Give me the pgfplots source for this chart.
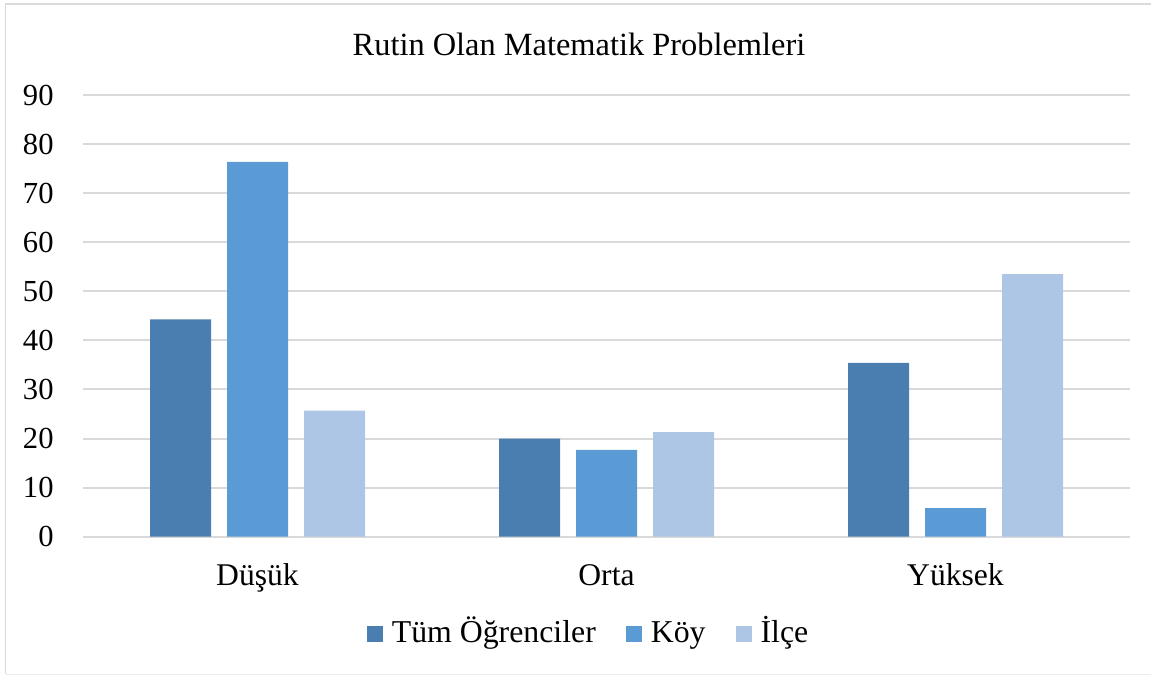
\documentclass[border=0pt]{standalone}
\usepackage{fontspec}
\setmainfont{Liberation Serif}
\usepackage{pgfplots}
\pgfplotsset{compat=1.18}
\definecolor{cTum}{RGB}{74,126,176}
\definecolor{cKoy}{RGB}{91,155,213}
\definecolor{cIlce}{RGB}{173,198,229}
\definecolor{cGrid}{RGB}{217,217,217}
\begin{document}
\fontsize{15}{18}\selectfont
\begin{tikzpicture}
\useasboundingbox (0,0) rectangle (575.5pt,337.5pt);
\draw[cGrid, line width=0.8pt] (2.8pt,0.3pt) -- (2.8pt,335.5pt) -- (575.5pt,335.5pt);
\draw[cGrid!50, line width=0.4pt] (2.8pt,0.3pt) -- (575.5pt,0.3pt);
\node[anchor=base, font=\fontsize{16.2}{19}\selectfont] at (289.5pt,309.5pt) {Rutin Olan Matematik Problemleri};
\begin{axis}[
  at={(41.5pt,69.15pt)}, anchor=south west,
  scale only axis, width=523.5pt, height=220.85pt,
  ybar=8pt, bar width=30.5pt,
  xmin=-0.5, xmax=2.5, ymin=0, ymax=90,
  xtick={0,1,2}, xticklabels={Düşük,Orta,Yüksek},
  ytick={0,10,...,90},
  axis line style={draw=none},
  major tick length=0pt,
  ymajorgrids, grid style={cGrid, line width=1pt},
  /pgf/number format/assume math mode=true,
  yticklabel style={font=\fontsize{15.3}{18}\selectfont, anchor=east, inner sep=0pt, xshift=-14.5pt},
  xticklabel style={font=\fontsize{15.8}{18}\selectfont, anchor=base, inner sep=0pt, yshift=-24.15pt},
  legend columns=3,
  legend style={draw=none, fill=none, at={(0.4819,-0.2214)}, anchor=center,
    font=\fontsize{15.9}{18}\selectfont, inner sep=0pt,
    nodes={inner sep=0pt, text height=0.78em, text depth=0.25em},
    /tikz/every odd column/.append style={column sep=4.5pt},
    /tikz/every even column/.append style={column sep=15pt}},
  legend image code/.code={\fill[#1] (0pt,-4pt) rectangle (8pt,4pt);},
  clip=false,
]
\addplot[fill=cTum, draw=none] coordinates {(0,44.3) (1,20.0) (2,35.4)};
\addplot[fill=cKoy, draw=none] coordinates {(0,76.4) (1,17.7) (2,5.8)};
\addplot[fill=cIlce, draw=none] coordinates {(0,25.7) (1,21.3) (2,53.5)};
\legend{Tüm Öğrenciler, Köy, İlçe}
\end{axis}
\end{tikzpicture}
\end{document}
